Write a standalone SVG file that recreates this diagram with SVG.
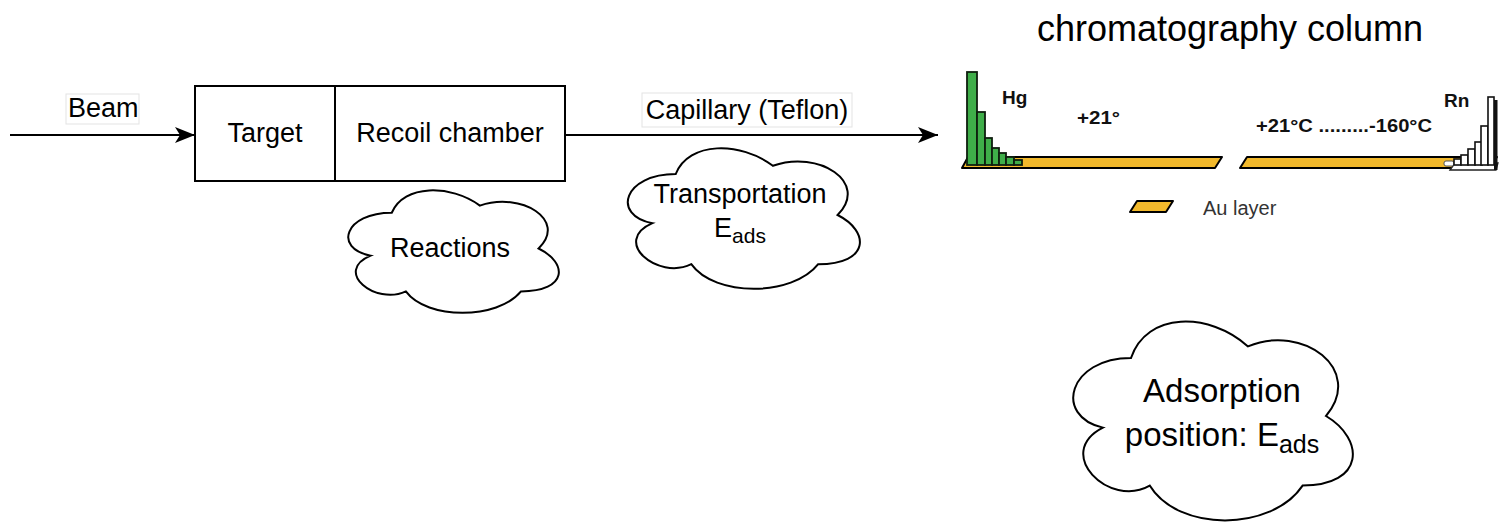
<svg xmlns="http://www.w3.org/2000/svg" width="1500" height="523" viewBox="0 0 1500 523">
<style>
  .t{font-family:"Liberation Sans",Arial,sans-serif;fill:#000}
  .lab{font-size:27px}
  .box{fill:#fff;stroke:#000;stroke-width:2}
  .lbl{fill:#fff;stroke:#e3e3e3;stroke-width:1}
  .cloud{fill:#fff;stroke:#000;stroke-width:2}
  .edge{stroke:#000;stroke-width:2;fill:none}
  .b{font-family:"Liberation Sans",Arial,sans-serif;font-weight:bold;font-size:19px;fill:#111}
  .au{fill:#f2b92c;stroke:#000;stroke-width:2;stroke-linejoin:round}
  .hg{fill:#3fae49;stroke:#0f1f0f;stroke-width:1.8}
  .rn{fill:#fff;stroke:#111;stroke-width:1.6}
</style>
<defs>
  <marker id="arr" markerUnits="userSpaceOnUse" markerWidth="22" markerHeight="16" refX="20" refY="8" orient="auto">
    <path d="M0,0 L20,8 L0,16 L5,8 Z" fill="#000"/>
  </marker>
</defs>
<rect width="1500" height="523" fill="#fff"/>

<g id="connectors">
  <line class="edge" x1="10" y1="135" x2="195" y2="135" marker-end="url(#arr)"/>
  <line class="edge" x1="565" y1="135" x2="938" y2="135" marker-end="url(#arr)"/>
  <rect class="lbl" x="66" y="94" width="73" height="30"/>
  <text class="t lab" x="68" y="117">Beam</text>
  <rect class="lbl" x="642" y="93" width="210" height="34"/>
  <text class="t lab" x="747" y="119" text-anchor="middle">Capillary (Teflon)</text>
</g>

<g id="target">
  <rect class="box" x="195" y="86" width="140" height="95"/>
  <text class="t lab" x="265" y="142" text-anchor="middle">Target</text>
</g>
<g id="recoil-chamber">
  <rect class="box" x="335" y="86" width="230" height="95"/>
  <text class="t lab" x="450" y="142" text-anchor="middle">Recoil chamber</text>
</g>

<g id="reactions">
  <path class="cloud" d="M391.75,212.75 C344.75,212.75 333,248.5 370.6,255.65 C333,271.4 375.3,305.7 405.85,291.4 C427,320 497.5,320 521,291.4 C568,291.4 568,262.8 538.6,248.5 C568,219.9 521,191.3 479.9,205.6 C450.5,184.15 403.5,184.15 391.75,212.75 Z"/>
  <text class="t lab" x="450" y="257" text-anchor="middle">Reactions</text>
</g>

<g id="transportation">
  <path class="cloud" d="M675.75,174 C623.95,174 611,215 652.44,223.2 C611,241.2 657.62,280.6 691.29,264.2 C714.6,297 792.3,297 818.2,264.2 C870,264.2 870,231.4 837.6,215 C870,182.2 818.2,149.4 772.9,165.8 C740.5,141.2 688.7,141.2 675.75,174 Z"/>
  <text class="t lab" x="740" y="203" text-anchor="middle">Transportation</text>
  <text class="t lab" x="740" y="237" text-anchor="middle">E<tspan font-size="21" dy="6">ads</tspan></text>
</g>

<g id="adsorption">
  <path class="cloud" d="M1131,358 C1068.6,358 1053,416 1102.92,427.6 C1053,453.12 1109.16,508.8 1149.72,485.6 C1177.8,532 1271.4,532 1302.6,485.6 C1365,485.6 1365,439.2 1326,416 C1365,369.6 1302.6,323.2 1248,346.4 C1209,311.6 1146.6,311.6 1131,358 Z"/>
  <text class="t" font-size="33" x="1222" y="402" text-anchor="middle">Adsorption</text>
  <text class="t" font-size="33" x="1222" y="446" text-anchor="middle">position: E<tspan font-size="25" dy="7">ads</tspan></text>
</g>

<g id="chromatography-column">
  <text class="t" font-size="36" x="1230" y="41" text-anchor="middle">chromatography column</text>
  <polygon class="au" points="962,168 968,157 1222,157 1215,168"/>
  <polygon class="au" points="1240,168 1247,157 1497,157 1490,168"/>
  <g id="hg-peak">
    <rect class="hg" x="967" y="72" width="10" height="93"/>
    <rect class="hg" x="977" y="112" width="8" height="53"/>
    <rect class="hg" x="985" y="138" width="7" height="27"/>
    <rect class="hg" x="992" y="148" width="7" height="17"/>
    <rect class="hg" x="999" y="153" width="7" height="12"/>
    <rect class="hg" x="1006" y="157" width="8" height="8"/>
    <rect class="hg" x="1014" y="160" width="8" height="5"/>
  </g>
  <g id="rn-peak">
    <polygon points="1450,170 1455,163 1498,163 1496,170" fill="#fff" stroke="#222" stroke-width="1.3"/>
    <rect x="1494" y="100" width="3.5" height="70" fill="#111"/>
    <rect x="1444" y="161" width="10" height="5" rx="2" fill="#fff" stroke="#555" stroke-width="1"/>
    <rect class="rn" x="1454" y="159" width="7" height="6"/>
    <rect class="rn" x="1461" y="155" width="7" height="10"/>
    <rect class="rn" x="1468" y="149" width="7" height="16"/>
    <rect class="rn" x="1475" y="142" width="7" height="23"/>
    <rect class="rn" x="1481" y="126" width="7" height="39"/>
    <rect class="rn" x="1488" y="97" width="6" height="68"/>
  </g>
  <text class="b" x="1002" y="104">Hg</text>
  <text class="b" x="1077" y="124" textLength="43" lengthAdjust="spacingAndGlyphs">+21°</text>
  <text class="b" x="1256" y="132" textLength="176" lengthAdjust="spacingAndGlyphs">+21°C .........-160°C</text>
  <text class="b" x="1444" y="107">Rn</text>
  <polygon class="au" points="1130,212 1137,201 1173,201 1166,212"/>
  <text class="t" font-size="20" x="1203" y="215" style="fill:#333">Au layer</text>
</g>
</svg>
